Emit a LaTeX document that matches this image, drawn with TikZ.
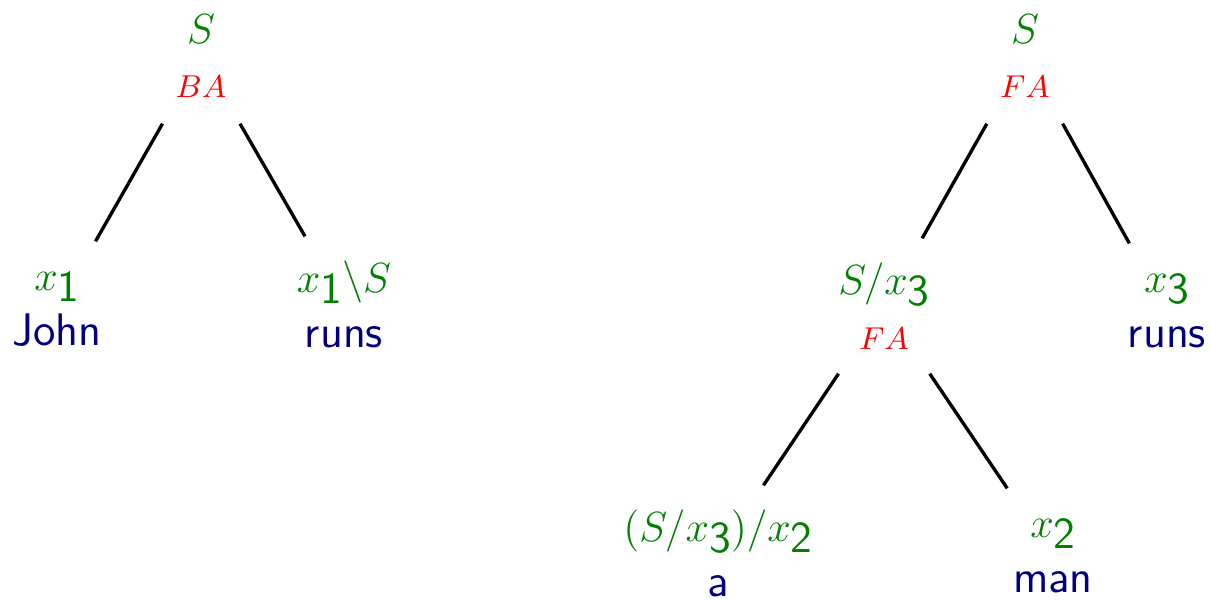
\documentclass[tikz,border=0pt]{standalone}
\definecolor{catgreen}{RGB}{0,128,0}
\definecolor{rulered}{RGB}{255,0,0}
\definecolor{wordblue}{RGB}{0,0,128}
% category, combination rule and word of a derivation node
\newcommand{\ccat}[1]{\textcolor{catgreen}{$#1$}}
\newcommand{\rulelbl}[1]{{\fontsize{9.4}{11}\selectfont\textcolor{rulered}{$#1$}}}
\newcommand{\cword}[1]{{\fontsize{13}{15}\selectfont\textcolor{wordblue}{#1}}}
\newcommand{\idx}[1]{\raisebox{-.27em}[0pt][0pt]{\fontsize{12.6}{15}\selectfont\sffamily #1}}
\tikzset{
  treenode/.style={
    align=center,
    minimum height=13.4mm,
    minimum width=20mm,
    inner sep=1pt,
    font=\fontsize{12}{15.6}\selectfont\sffamily
  },
  branch/.style={line width=.95pt}
}

\begin{document}
\begin{tikzpicture}
  \useasboundingbox (0,0) rectangle (12.11,-5.99);

  % John runs
  \node[treenode] (lroot) at (2.01,-0.56) {\ccat{S}\\\rulelbl{BA}};
  \node[treenode] (john) at (0.57,-3.09) {\ccat{x\idx{1}}\\\cword{John}};
  \node[treenode] (lruns) at (3.44,-3.04) {\ccat{x\idx{1}\backslash S}\\\cword{runs}};

  % a man runs
  \node[treenode] (rroot) at (10.25,-0.56) {\ccat{S}\\\rulelbl{FA}};
  \node[treenode] (sx) at (8.84,-3.06) {\ccat{S/x\idx{3}}\\\rulelbl{FA}};
  \node[treenode] (rruns) at (11.67,-3.11) {\ccat{x\idx{3}}\\\cword{runs}};
  \node[treenode] (det) at (7.18,-5.53) {\ccat{(S/x\idx{3})/x\idx{2}}\\\cword{a}};
  \node[treenode] (man) at (10.53,-5.56) {\ccat{x\idx{2}}\\\cword{man}};

  \draw[branch] (lroot) -- (john);
  \draw[branch] (lroot) -- (lruns);
  \draw[branch] (rroot) -- (sx);
  \draw[branch] (rroot) -- (rruns);
  \draw[branch] (sx) -- (det);
  \draw[branch] (sx) -- (man);
\end{tikzpicture}
\end{document}
